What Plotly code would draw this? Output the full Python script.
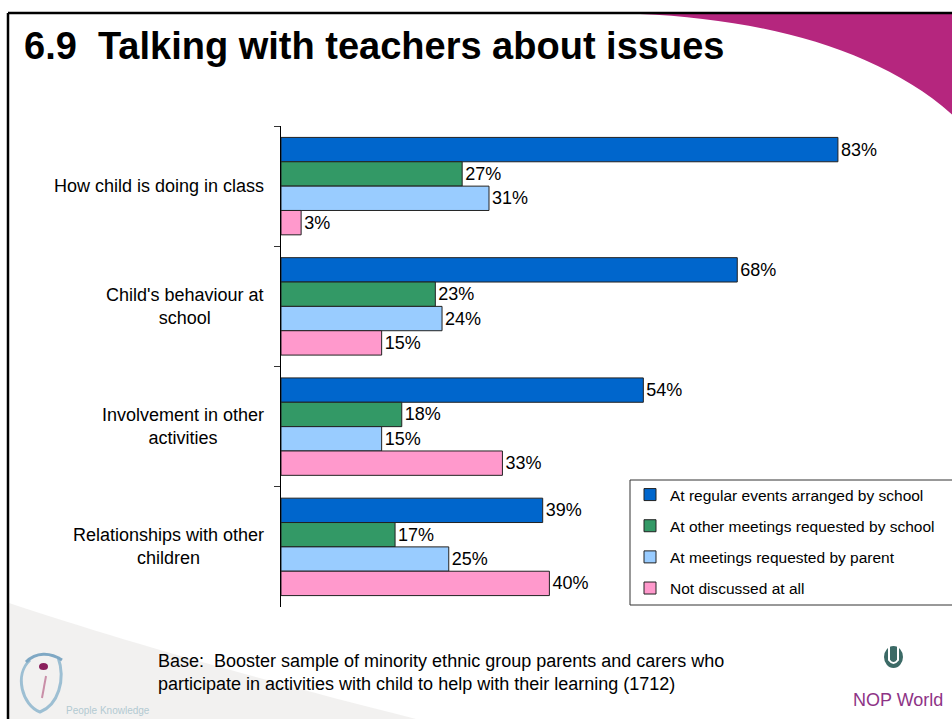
import plotly.graph_objects as go

# Survey results: share of parents discussing each topic with teachers, by setting
categories = [
    "How child is doing in class",
    "Child's behaviour at<br>school",
    "Involvement in other<br>activities",
    "Relationships with other<br>children",
]
series_names = [
    "At regular events arranged by school",
    "At other meetings requested by school",
    "At meetings requested by parent",
    "Not discussed at all",
]
regular_events = [83, 68, 54, 39]
school_meetings = [27, 23, 18, 17]
parent_meetings = [31, 24, 15, 25]
not_discussed = [3, 15, 33, 40]

series_values = [regular_events, school_meetings, parent_meetings, not_discussed]
series_colors = ["#0066CC", "#339966", "#99CCFF", "#FF99CC"]

title_text = "6.9  Talking with teachers about issues"
base_note = ("Base:  Booster sample of minority ethnic group parents and carers who<br>"
             "participate in activities with child to help with their learning (1712)")

W, H = 952, 719
ML, MR, MT, MB = 281, 0, 126, 112
FONT = "Liberation Sans, Arial, sans-serif"


def px(x):
    return (x - ML) / (W - ML - MR)


def py(y):
    return (H - MB - y) / (H - MT - MB)


fig = go.Figure()
for name, vals, col in zip(series_names, series_values, series_colors):
    fig.add_trace(go.Bar(
        y=categories, x=vals, name=name, orientation="h",
        marker=dict(color=col, line=dict(color="#222222", width=1)),
        text=[f"{v}%" for v in vals], textposition="outside",
        textfont=dict(size=18, color="#000000", family=FONT),
        cliponaxis=False, legendgroup=name,
    ))

annotations = []
# Category labels, centred line by line and right-aligned against the axis
for cat in categories:
    annotations.append(dict(
        x=0, y=cat, xref="x", yref="y", text=cat, showarrow=False,
        xanchor="right", yanchor="middle", align="center", xshift=-15,
        font=dict(size=18, color="#000000", family=FONT),
    ))

shapes = []
# Magenta swoosh in the top-right corner
shapes.append(dict(
    type="path", xref="paper", yref="paper", layer="below",
    path=(f"M {px(640)},{py(14)} C {px(760)},{py(19)} {px(880)},{py(48)} {px(956)},{py(118)} "
          f"L {px(956)},{py(14)} Z"),
    fillcolor="#B5267E", line=dict(width=0),
))
# Soft grey swoosh in the bottom-left corner
shapes.append(dict(
    type="path", xref="paper", yref="paper", layer="below",
    path=(f"M {px(9)},{py(603)} C {px(120)},{py(640)} {px(260)},{py(680)} {px(420)},{py(720)} "
          f"L {px(9)},{py(720)} Z"),
    fillcolor="rgba(205,200,195,0.25)", line=dict(width=0),
))
# Left-hand logo mark
shapes.append(dict(
    type="path", xref="paper", yref="paper", layer="below",
    path=(f"M {px(30)},{py(660)} C {px(14)},{py(675)} {px(22)},{py(705)} {px(40)},{py(712)} "
          f"C {px(58)},{py(705)} {px(66)},{py(680)} {px(58)},{py(657)}"),
    line=dict(color="#9DBFD3", width=3),
))
shapes.append(dict(
    type="path", xref="paper", yref="paper", layer="below",
    path=f"M {px(26)},{py(662)} C {px(36)},{py(652)} {px(50)},{py(652)} {px(62)},{py(660)}",
    line=dict(color="#7FA8C4", width=3),
))
shapes.append(dict(
    type="circle", xref="paper", yref="paper", layer="below",
    x0=px(39), x1=px(48), y0=py(670), y1=py(663),
    fillcolor="#8A1F5C", line=dict(width=0),
))
shapes.append(dict(
    type="line", xref="paper", yref="paper", layer="below",
    x0=px(46), x1=px(42), y0=py(676), y1=py(698),
    line=dict(color="#C98FA8", width=2),
))
# NOP World globe mark
shapes.append(dict(
    type="circle", xref="paper", yref="paper", layer="below",
    x0=px(884), x1=px(903), y0=py(668), y1=py(646),
    fillcolor="#3C6A66", line=dict(width=0),
))
shapes.append(dict(
    type="path", xref="paper", yref="paper", layer="below",
    path=f"M {px(889)},{py(644)} L {px(889)},{py(660)} Q {px(893.5)},{py(666)} {px(898)},{py(660)} L {px(898)},{py(644)}",
    line=dict(color="#FFFFFF", width=2),
))
# Legend panel: a framed box running off the right edge of the slide
shapes.append(dict(
    type="rect", xref="paper", yref="paper", layer="above",
    x0=px(630), x1=px(962), y0=py(480), y1=py(605),
    fillcolor="#FFFFFF", line=dict(color="#333333", width=1),
))
# Slide frame
shapes.append(dict(
    type="line", xref="paper", yref="paper", x0=px(8), x1=px(960), y0=py(13), y1=py(13),
    line=dict(color="#000000", width=2.5),
))
shapes.append(dict(
    type="line", xref="paper", yref="paper", x0=px(8), x1=px(8), y0=py(13), y1=py(725),
    line=dict(color="#000000", width=2.5),
))

# Free-standing slide texts (positions in page pixels, converted to paper units)
annotations += [
    dict(xref="paper", yref="paper", x=px(22), y=py(46), text=f"<b>{title_text}</b>",
         showarrow=False, xanchor="left", yanchor="middle",
         font=dict(size=38, color="#000000", family=FONT)),
    dict(xref="paper", yref="paper", x=px(156), y=py(672), text=base_note,
         showarrow=False, xanchor="left", yanchor="middle", align="left",
         font=dict(size=18, color="#000000", family=FONT)),
    dict(xref="paper", yref="paper", x=px(851), y=py(700), text="NOP World",
         showarrow=False, xanchor="left", yanchor="middle",
         font=dict(size=18, color="#8E3486", family=FONT)),
    dict(xref="paper", yref="paper", x=px(64), y=py(710), text="People Knowledge",
         showarrow=False, xanchor="left", yanchor="middle",
         font=dict(size=10, color="#B3CAD2", family=FONT)),
]

fig.update_layout(
    width=W, height=H,
    margin=dict(l=ML, r=MR, t=MT, b=MB, autoexpand=False),
    paper_bgcolor="#FFFFFF", plot_bgcolor="rgba(0,0,0,0)",
    barmode="group", bargap=0.19, bargroupgap=0,
    font=dict(family=FONT, color="#000000"),
    showlegend=True,
    legend=dict(
        x=px(630), y=py(478), xanchor="left", yanchor="top",
        bgcolor="rgba(0,0,0,0)", borderwidth=0,
        font=dict(size=15.5, color="#000000", family=FONT),
        tracegroupgap=8, traceorder="grouped",
    ),
    shapes=shapes,
    annotations=annotations,
)
fig.update_xaxes(range=[0, 100], visible=False, fixedrange=True)
fig.update_yaxes(
    autorange="reversed", showticklabels=False, showline=True, linecolor="#000000",
    linewidth=1, ticks="outside", ticklen=6, tickcolor="#333333",
    tickson="boundaries", showgrid=False, zeroline=False,
)

fig.write_html("out.html")
